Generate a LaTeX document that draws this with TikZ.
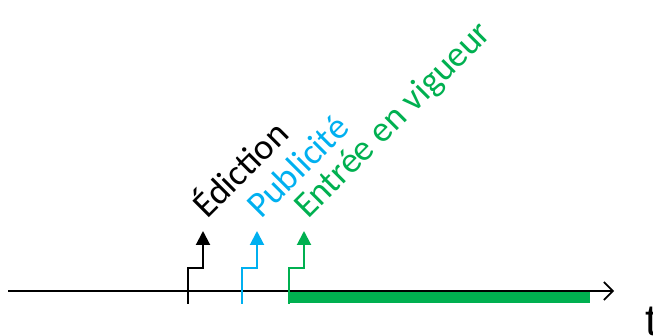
\documentclass[tikz,border=0pt]{standalone}
\usepackage{fontspec}
\setmainfont{Carlito}
\newfontfamily\axisFont{Liberation Sans}
\usetikzlibrary{arrows.meta}
\tikzstyle{timeline} = [x = 1pt, y = -1pt]
\definecolor{publiColor}{HTML}{00B0F0}
\definecolor{vigueurColor}{HTML}{00B050}
\tikzstyle{axisLine} = [color=black, line width=1.6pt, -{Straight Barb[length=9pt, width=18pt, line width=1.6pt]}]
\tikzstyle{stepArrow} = [line width=2pt, -{Triangle[length=14pt, width=14pt]}]
\tikzstyle{eventText} = [rotate=45, anchor=base west, inner sep=0pt, font=\fontsize{36.3}{39}\selectfont]
\newcommand{\eventStep}[4]{
  \coordinate (#1Foot) at (#2, 304);
  \coordinate (#1Tip) at (#2 + 15, 231);
  \draw [stepArrow, color=#3] (#1Foot) -- ++(0,-36) -| (#1Tip);
  \node [eventText, text=#3] (#1Label) at ([shift={(4,-11)}]#1Tip) {#4};
}

\begin{document}
\begin{tikzpicture}[timeline]
  \useasboundingbox (0,0) rectangle (653,336);
  % time axis
  \coordinate (axisStart) at (8,291);
  \coordinate (axisEnd) at (614,291);
  \fill [vigueurColor] (289,290) rectangle (590,303);
  \draw [axisLine] (axisStart) -- (axisEnd);
  \node [font=\axisFont\fontsize{44}{46}\selectfont, anchor=base] (tLabel) at (652,336) {t};
  % events
  \eventStep{edition}{188}{black}{Édiction}
  \eventStep{publicite}{242}{publiColor}{Publicité}
  \eventStep{vigueur}{289}{vigueurColor}{Entrée en vigueur}
\end{tikzpicture}
\end{document}
